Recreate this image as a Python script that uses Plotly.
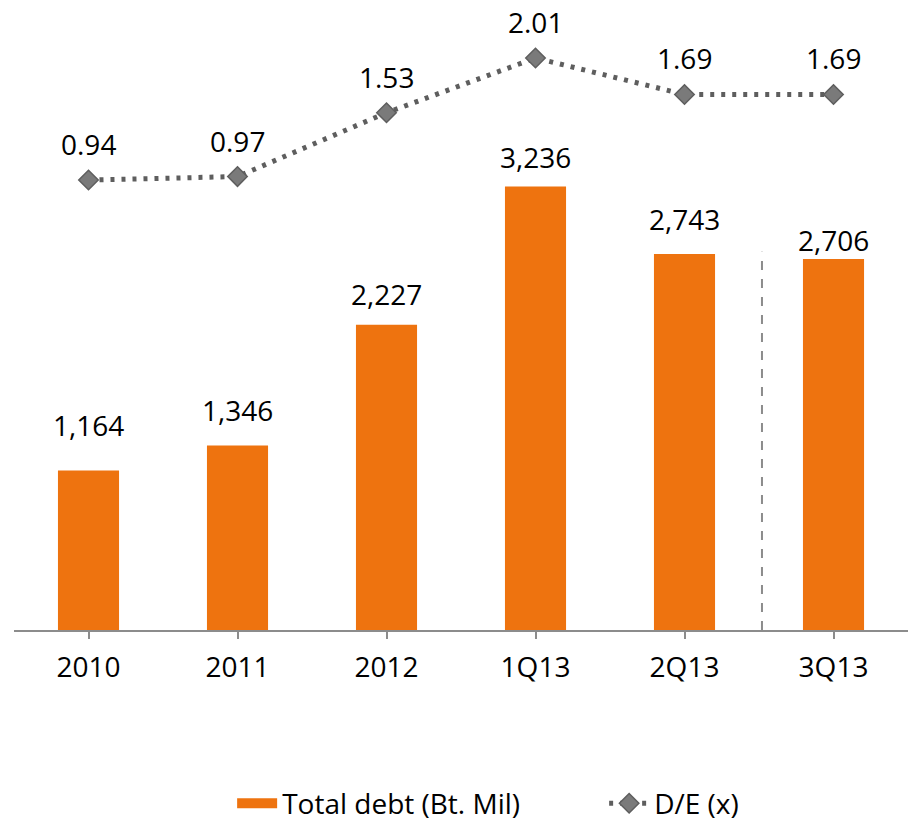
import plotly.graph_objects as go

categories = ["2010", "2011", "2012", "1Q13", "2Q13", "3Q13"]
total_debt = [1164, 1346, 2227, 3236, 2743, 2706]
de_ratio = [0.94, 0.97, 1.53, 2.01, 1.69, 1.69]

# label vertical offsets (px) above bar tops, as in the reference
bar_label_shift = [24, 14, 10, 8, 14, -2]

FONT = "Open Sans"
FS = 28
ORANGE = "#EE730F"

fig = go.Figure()
fig.add_trace(go.Bar(
    x=categories, y=total_debt, name="Total debt (Bt. Mil)",
    marker=dict(color=ORANGE, line=dict(width=0)),
    width=0.41, yaxis="y", showlegend=False,
))
# legend entry for the bars drawn as a wide swatch
fig.add_trace(go.Scatter(
    x=[None], y=[None], name="Total debt (Bt. Mil)", mode="lines",
    line=dict(color=ORANGE, width=22), yaxis="y",
))
fig.add_trace(go.Scatter(
    x=categories, y=de_ratio, name="D/E (x)", mode="lines+markers",
    line=dict(color="#5E5E5E", width=5, dash="4px,7px"),
    marker=dict(symbol="diamond", size=15, color="#7A7A7A",
                line=dict(color="#5E5E5E", width=1.5)),
    yaxis="y2",
))

annotations = []
for i, (v, s) in enumerate(zip(total_debt, bar_label_shift)):
    annotations.append(dict(x=i, y=v, xref="x", yref="y", text=f"{v:,}",
                            showarrow=False, yanchor="bottom", yshift=s,
                            font=dict(family=FONT, size=FS, color="black")))
for i, v in enumerate(de_ratio):
    annotations.append(dict(x=i, y=v, xref="x", yref="y2", text=f"{v:.2f}",
                            showarrow=False, yanchor="middle", yshift=36,
                            font=dict(family=FONT, size=FS, color="black")))

fig.update_layout(
    width=915, height=825,
    margin=dict(l=14, r=7, t=10, b=195, autoexpand=False),
    plot_bgcolor="white", paper_bgcolor="white",
    font=dict(family=FONT, size=FS, color="black"),
    xaxis=dict(type="category", showline=True, linecolor="#8C8C8C", linewidth=1.5,
               ticks="outside", ticklen=7, tickcolor="#8C8C8C", tickwidth=1.5,
               ticklabelstandoff=5,
               tickfont=dict(family=FONT, size=FS, color="black"),
               showgrid=False, zeroline=False, range=[-0.5, 5.5]),
    yaxis=dict(range=[0, 4523], visible=False, showgrid=False, zeroline=False),
    yaxis2=dict(range=[-3.007, 2.431], overlaying="y", visible=False,
                showgrid=False, zeroline=False),
    legend=dict(orientation="h", x=0.244, xanchor="left", y=-0.28, yanchor="middle",
                font=dict(family=FONT, size=FS, color="black"), itemwidth=40,
                entrywidth=317, entrywidthmode="pixels"),
    showlegend=True,
    annotations=annotations,
    shapes=[dict(type="line", xref="x", yref="paper", x0=4.52, x1=4.52,
                 y0=0, y1=0.61, line=dict(color="#8C8C8C", width=2, dash="dash"))],
)

fig.write_html("out.html", config={"displayModeBar": False},
               post_script="document.body.style.margin='0';document.body.style.overflow='hidden';")
